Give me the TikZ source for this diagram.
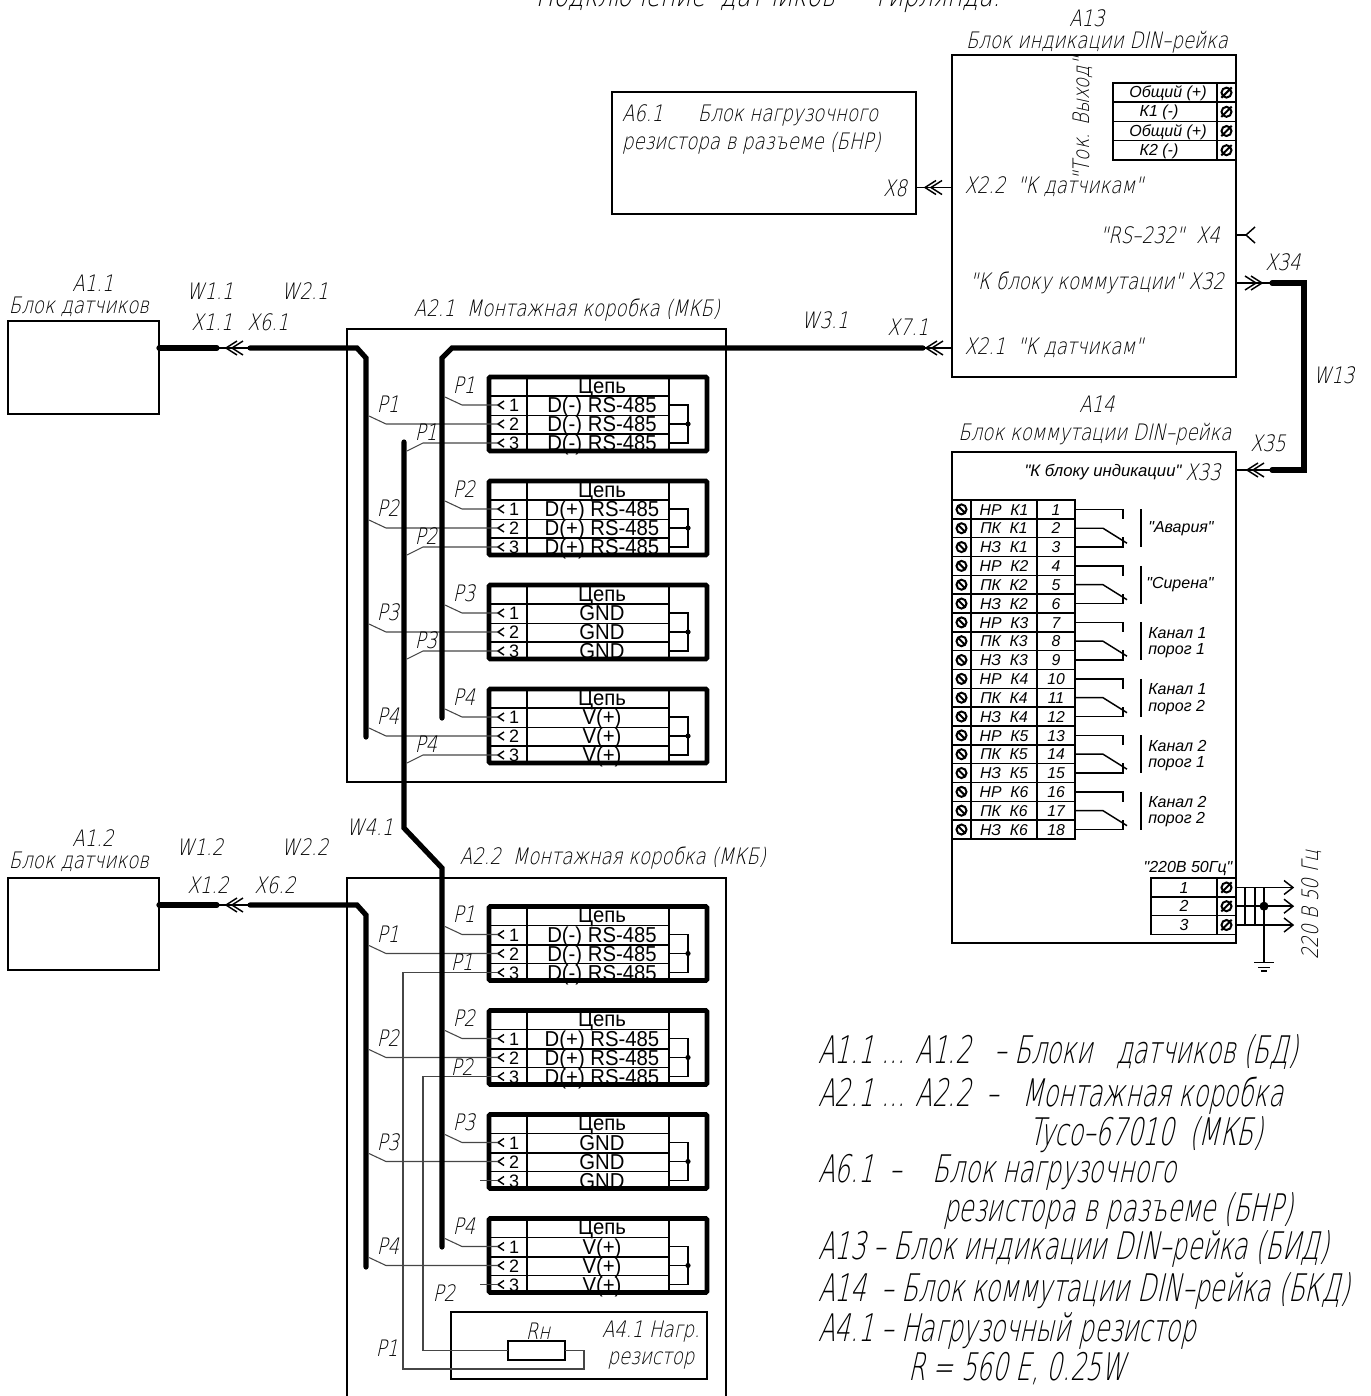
\documentclass[tikz,border=0pt]{standalone}
\usepackage{fontspec}
\usepackage{tikz}
\newfontfamily\gost[FakeStretch=0.8,FakeSlant=0.22]{DejaVu Sans ExtraLight}
\newfontfamily\gostn[FakeStretch=0.645,FakeSlant=0.22]{DejaVu Sans ExtraLight}
\newfontfamily\arial{Liberation Sans}
\newfontfamily\arialn[FakeStretch=0.94]{Liberation Sans}
\newcommand{\gfs}[1]{\gost\fontsize{#1}{#1}\selectfont}
\newcommand{\nfs}[1]{\gostn\fontsize{#1}{#1}\selectfont}
\newcommand{\afs}[1]{\arial\fontsize{#1}{#1}\selectfont}
\newcommand{\ifs}[1]{\arial\itshape\fontsize{#1}{#1}\selectfont}
\definecolor{wiregray}{RGB}{70,70,70}

\begin{document}
\begin{tikzpicture}[x=0.75pt,y=-0.75pt,
  boxnode/.style={draw, rectangle, line width=1pt, inner sep=0, outer sep=0},
  cell/.style={draw, rectangle, line width=1.1pt, inner sep=0, outer sep=0, text height=8.6pt, text depth=0pt},
  blockframe/.style={draw, rectangle, line width=3.6pt, rounded corners=1pt, inner sep=0, outer sep=0},
  txt/.style={font=\gfs{17}, inner sep=0, outer sep=0},
  bigtxt/.style={font=\nfs{28.5}, inner sep=0, outer sep=0, anchor=base west},
  sigtxt/.style={font=\arialn\fontsize{16.2}{16.2}\selectfont, inner sep=0, anchor=base},
  cable/.style={line width=3.9pt, line cap=round},
  wire/.style={line width=0.8pt, wiregray},
  conn/.style={line width=1.1pt},
  dchev/.pic={\draw[conn] (11,-7) -- (0,0) -- (11,7) (17,-7) -- (6,0) -- (17,7);},
  screwb/.pic={\draw[line width=1.5pt] (0,0) circle (5) (-3.9,-3.9) -- (3.9,3.9);},
  screwf/.pic={\draw[line width=1.5pt] (0,0) circle (5) (-5.2,5.2) -- (5.2,-5.2);},
  termblock/.pic={
    \draw[line width=1pt] (0,19) -- (180,19) (0,38.5) -- (180,38.5) (0,57) -- (180,57);
    \draw[line width=1pt] (38,0) -- (38,74) (180,0) -- (180,74);
    \node[sigtxt] (-head) at (113,16) {Цепь};
    \foreach \n/\yy in {1/28,2/47,3/66} {
      \coordinate (-w\n) at (9,\yy);
      \draw[conn] (15,\yy-4) -- (9,\yy) -- (15,\yy+4);
      \node[font=\afs{13.5}, inner sep=0, anchor=base] (-num\n) at (25,\yy+6.5) {\n};
      \node[sigtxt] (-sig\n) at (113,\yy+7.5) {#1};
    }
    \draw[conn] (180,28) -| (199,66) -- (180,66) (180,47) -- (199,47);
    \fill (199,47) circle (2.6);
    \node[blockframe, minimum width=163.5pt, minimum height=55.5pt] (-frame) at (109,37) {};
  }]
\useasboundingbox (0,0) rectangle (1371,1396);
\clip (0,0) rectangle (1371,1396);

% title
\node[font=\gfs{22}, inner sep=0, anchor=base] (title) at (768,6) {Подключение\ \ датчиков\ \ –\ \ гирлянда.};

% main boxes
\node[boxnode, minimum width=113.25pt, minimum height=69.75pt] (a11) at (83.5,367.5) {};
\node[boxnode, minimum width=113.25pt, minimum height=69pt] (a12) at (83.5,924) {};
\node[boxnode, minimum width=284.25pt, minimum height=339.75pt] (a21) at (536.5,555.5) {};
\node[boxnode, minimum width=284.25pt, minimum height=420pt] (a22) at (536.5,1158) {};
\node[boxnode, minimum width=228pt, minimum height=91.5pt] (a61) at (764,153) {};
\node[boxnode, minimum width=213pt, minimum height=241.5pt] (a13) at (1094,216) {};
\node[boxnode, minimum width=213pt, minimum height=368.25pt] (a14) at (1094,697.5) {};
\node[boxnode, minimum width=192pt, minimum height=50.25pt] (a41) at (579,1345.5) {};

% connection blocks
\pic (b1) at (489,377) {termblock={D(-) RS-485}};
\pic (b2) at (489,481) {termblock={D(+) RS-485}};
\pic (b3) at (489,585) {termblock={GND}};
\pic (b4) at (489,689) {termblock={V(+)}};
\pic (d1) at (489,906.5) {termblock={D(-) RS-485}};
\pic (d2) at (489,1010.5) {termblock={D(+) RS-485}};
\pic (d3) at (489,1114.5) {termblock={GND}};
\pic (d4) at (489,1218.5) {termblock={V(+)}};

% wires
\foreach \n in {1,2,3,4} {
  \draw[wire] (b\n-w1) -- ++(-36,0) -- ++(-17,-8);
  \draw[wire] (b\n-w2) -- ++(-112,0) -- ++(-17,-8);
  \draw[wire] (b\n-w3) -- ++(-75,0) -- ++(-16,8);
  \draw[wire] (d\n-w1) -- ++(-36,0) -- ++(-17,-8);
  \draw[wire] (d\n-w2) -- ++(-112,0) -- ++(-17,-8);
}
\draw[wire] (d3-w3) -- ++(-18,0);
\draw[wire] (d4-w3) -- ++(-18,0);
\node[boxnode, line width=1.5pt, fill=white, minimum width=42.75pt, minimum height=14.25pt] (rh) at (536.5,1350.5) {};
\draw[wire] (rh.east) -- ++(19,0) -- ++(0,18.5) -- ++(-181,0) |- (d1-w3);
\draw[wire] (rh.west) -- ++(-85,0) |- (d2-w3);

% cables
\coordinate (x11) at (217,348);
\coordinate (x61) at (250,348);
\coordinate (x12) at (217,905);
\coordinate (x62) at (250,905);
\coordinate (x71) at (923,348);
\coordinate (w41) at (404,442);
\coordinate (x34) at (1272,283);
\coordinate (x35) at (1272,470);
\draw[cable] (a11.east |- x11) -- (x11);
\draw[conn] (x11) -- (x61);
\draw[cable] (x61) -- ++(107,0) -- ++(9,10) -- ++(0,379);
\draw[cable] (a12.east |- x12) -- (x12);
\draw[conn] (x12) -- (x62);
\draw[cable] (x62) -- ++(107,0) -- ++(9,10) -- ++(0,352);
\draw[conn] (x71) -- (a13.west |- x71);
\draw[cable] (x71) -- ++(-471,0) -- ++(-10,10) -- ++(0,360);
\draw[cable] (w41) -- ++(0,386) -- ++(38,40) -- ++(0,379);
\draw[cable] (x34) -- ++(32,0) |- (x35);

% connectors
\coordinate (c8) at (925,187.5);
\coordinate (c71) at (926,348);
\draw[conn] (a61.east |- c8) -- (a13.west |- c8);
\pic at (c8) {dchev};
\pic at (c71) {dchev};
\pic at (226,348) {dchev};
\pic at (226,905) {dchev};
\coordinate (c4) at (1246,235);
\draw[conn] (a13.east |- c4) -- (c4);
\draw[conn] (1255,227) -- (c4) -- (1255,243);
\coordinate (c32) at (1262,283);
\draw[conn] (a13.east |- c32) -- (x34);
\pic[xscale=-1] at (c32) {dchev};
\coordinate (c33) at (1247,470);
\draw[conn] (a14.east |- c33) -- (x35);
\pic at (c33) {dchev};

% labels
\foreach \n/\xx/\yy/\lab in {1/93/283/A1.1, 2/79/307/Блок датчиков, 3/210/291/W1.1, 4/305/291/W2.1,
  5/212/322/X1.1, 6/268/322/X6.1, 7/93/838/A1.2, 8/79/862/Блок датчиков, 9/200/847/W1.2,
  10/305/847/W2.2, 11/208/885/X1.2, 12/275/885/X6.2, 13/567/310/A2.1\ \ Монтажная коробка (МКБ),
  14/613/858/A2.2\ \ Монтажная коробка (МКБ), 15/825/320/W3.1, 16/908/327/X7.1, 17/370/827/W4.1,
  18/895/188/X8, 19/1054/187/X2.2\ \ "К датчикам", 20/1054/348/X2.1\ \ "К датчикам",
  21/1160/235/"RS–232"\ \ X4, 22/1097/283/"К блоку коммутации" X32, 23/1087/18/A13,
  24/1097/42/Блок индикации DIN–рейка, 25/1097/404/A14, 26/1095/434/Блок коммутации DIN–рейка,
  27/1283/262/X34, 28/1268/443/X35, 29/1334/375/W13, 30/1203/472/X33, 31/444/1293/P2, 32/387/1348/P1,
  33/538/1331/Rн, 34/651/1332/A4.1 Нагр., 35/651/1360/резистор}
  \node[txt] (lab\n) at (\xx,\yy) {\lab};
\node[txt, anchor=west] (a61t1) at (622,115) {A6.1\ \ \ \ \ \ Блок нагрузочного};
\node[txt, anchor=west] (a61t2) at (622,143) {резистора в разъеме (БНР)};
\node[txt, rotate=90] (tok) at (1083,119) {"Ток. Выход"};
\node[txt, rotate=90] (pwr) at (1312,905) {220 В 50 Гц};
\node[font=\ifs{12.5}, inner sep=0] (ind) at (1103,472) {"К блоку индикации"};

% P labels
\foreach \t/\lab in {377/P1,481/P2,585/P3,689/P4} {
  \node[txt] at (464,\t+8) {\lab};
  \node[txt] at (388,\t+27) {\lab};
  \node[txt] at (426,\t+55) {\lab};
}
\foreach \t/\lab in {906.5/P1,1010.5/P2,1114.5/P3,1218.5/P4} {
  \node[txt] at (464,\t+8) {\lab};
  \node[txt] at (388,\t+28) {\lab};
}
\node[txt] at (462,962) {P1};
\node[txt] at (462,1067) {P2};

% output table
\foreach \n/\xx/\yy/\lab in {1/1168/92.6/Общий (+),2/1159/111.8/К1 (-),3/1168/131/Общий (+),4/1159/150.2/К2 (-)} {
  \node[cell, minimum width=78pt, minimum height=14.4pt] (ot\n) at (1165,\yy) {};
  \node[cell, minimum width=14.25pt, minimum height=14.4pt] (os\n) at (1226.5,\yy) {};
  \node[font=\ifs{12}, inner sep=0] at (\xx,\yy+1) {\lab};
  \pic at (os\n) {screwf};
}

% relay table
\foreach \k in {1,...,6} {
  \foreach \t [count=\r from 1] in {НР,ПК,НЗ} {
    \pgfmathtruncatemacro{\n}{3*(\k-1)+\r}
    \pgfmathsetmacro{\yy}{509.4+18.83*(\n-1)}
    \node[cell, minimum width=14.25pt, minimum height=14.12pt] (rs\n) at (961.5,\yy) {};
    \node[cell, font=\ifs{11.8}, minimum width=49.5pt, minimum height=14.12pt] (rt\n) at (1004,\yy) {\t\ \ К\k};
    \node[cell, font=\ifs{11.8}, minimum width=28.5pt, minimum height=14.12pt] (rn\n) at (1056,\yy) {\n};
    \pic at (rs\n) {screwb};
  }
}
\foreach \k in {1,...,6} {
  \pgfmathtruncatemacro{\na}{3*\k-2}
  \pgfmathtruncatemacro{\nb}{3*\k-1}
  \pgfmathtruncatemacro{\nc}{3*\k}
  \draw[conn] (rn\na.east) -- ++(48,0) -- ++(0,10);
  \draw[conn] (rn\nb.east) -- ++(28,0) -- ++(24,15);
  \draw[conn] (rn\nc.east) -- ++(48,0) -- ++(0,-10);
  \draw[conn] (rn\na.east) ++(66,0) -- ++(0,37.7);
}
\foreach \n/\xx/\yy/\lab in {1/1181/529/"Авария",2/1180/585/"Сирена"}
  \node[font=\ifs{12}, inner sep=0] (rl\n) at (\xx,\yy) {\lab};
\foreach \n/\yy/\lab in {3/633/Канал 1,4/651/порог 1,5/689/Канал 1,6/708/порог 2,
  7/746/Канал 2,8/764/порог 1,9/802/Канал 2,10/820/порог 2}
  \node[font=\ifs{12}, inner sep=0, anchor=west] (rl\n) at (1148,\yy) {\lab};

% power table
\node[font=\ifs{12}, inner sep=0] (pt) at (1188,868) {"220В 50Гц"};
\foreach \n/\yy in {1/887.5,2/906.2,3/925} {
  \node[cell, font=\ifs{12}, minimum width=49.5pt, minimum height=14.1pt] (pn\n) at (1184,\yy) {\n};
  \node[cell, minimum width=14.25pt, minimum height=14.1pt] (ps\n) at (1226.5,\yy) {};
  \pic at (ps\n) {screwf};
  \draw[conn, line width=1.2pt] (ps\n.east) -- ++(57,0);
  \draw[conn] (ps\n.east) ++(48,-7) -- ++(9,7) -- ++(-9,7);
}
\draw[conn] (ps1.east) ++(9,0) -- ++(0,37.5) ++(10,0) -- ++(0,-37.5);
\draw[conn, line width=1.2pt] (ps1.east) ++(28,0) -- ++(0,75) coordinate (gnd);
\fill (ps2.east) ++(28,0) circle (4.5);
\draw[conn, line width=1.2pt] (gnd) ++(-10,0) -- ++(20,0) ++(-16,5) -- ++(12,0) ++(-9,3.5) -- ++(6,0);

% legend
\foreach \n/\xx/\yy/\lab in {1/818/1063/{A1.1 ... A1.2\ \ \ – Блоки\ \ \ датчиков (БД)},
  2/818/1106/{A2.1 ... A2.2\ \ –\ \ \ Монтажная коробка},
  3/1029/1145/{Tyco–67010\ \ (МКБ)},
  4/818/1182/{A6.1\ \ –\ \ \ \ Блок нагрузочного},
  5/943/1221/{резистора в разъеме (БНР)},
  6/818/1259/{A13 – Блок индикации DIN–рейка (БИД)},
  7/818/1301/{A14\ \ – Блок коммутации DIN–рейка (БКД)},
  8/818/1341/{A4.1 – Нагрузочный резистор},
  9/908/1380/{R = 560 Е, 0.25W}}
  \node[bigtxt] (leg\n) at (\xx,\yy) {\lab};
\end{tikzpicture}
\end{document}
